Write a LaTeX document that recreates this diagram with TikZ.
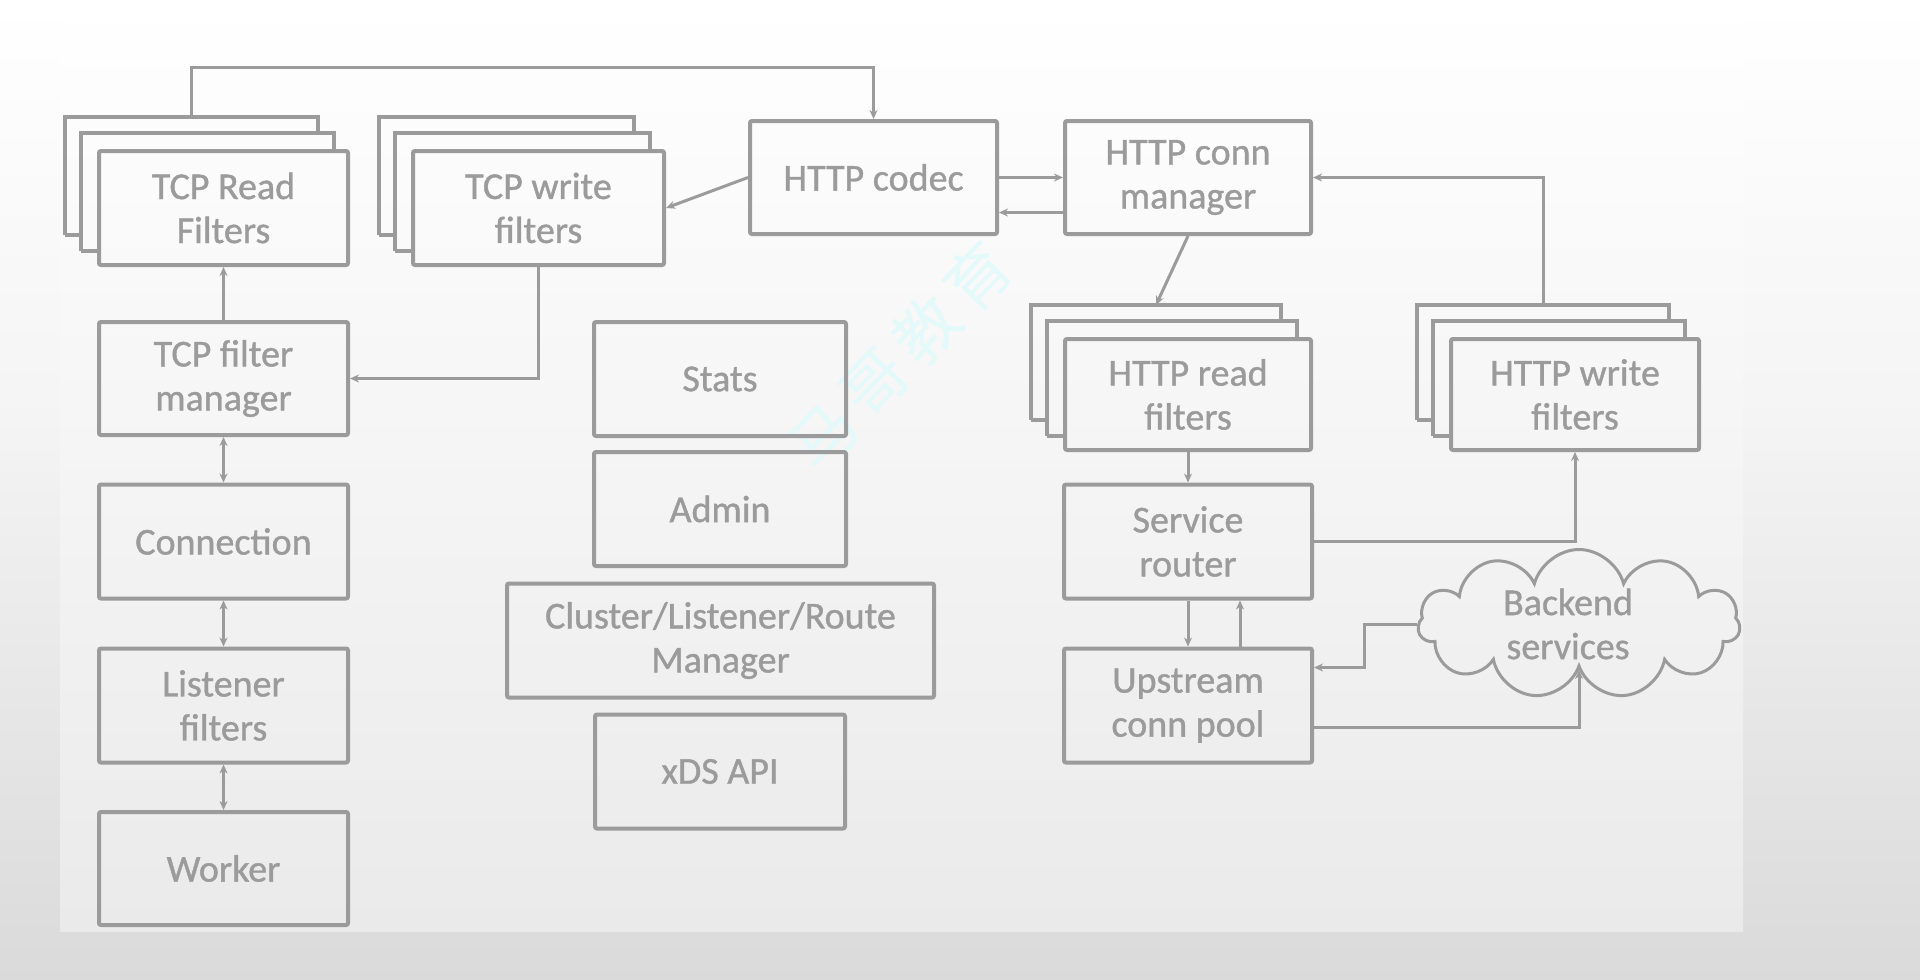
\documentclass[tikz,border=0pt]{standalone}
\usepackage{fontspec}
\setmainfont{Carlito}
\newfontfamily\boxfont{Carlito}[FakeBold=1]
\newfontfamily\cjkwm{Noto Sans CJK SC}
\usetikzlibrary{arrows.meta,calc,shapes.symbols}
\definecolor{lc}{HTML}{9B9B9B}
\definecolor{wmc}{HTML}{E4F9F9}
\definecolor{bgo}{HTML}{DADADA}
\definecolor{bgi}{HTML}{EAEAEA}
\pgfdeclareverticalshading{outerbg}{100bp}{color(0bp)=(bgo); color(25bp)=(bgo); color(54.6bp)=(black!4); color(75bp)=(white); color(100bp)=(white)}
\pgfdeclareverticalshading{innerbg}{100bp}{color(0bp)=(bgi); color(25bp)=(bgi); color(53.5bp)=(black!3.5); color(75bp)=(white); color(100bp)=(white)}
\tikzset{
  box/.style={draw=lc, line width=4pt, rounded corners=2pt, minimum width=249pt,
    minimum height=114pt, align=center, text=lc, inner sep=0pt,
    font=\fontsize{38}{44}\boxfont},
  edge/.style={draw=lc, line width=4pt},
  conn/.style={draw=lc, line width=3pt, -{Stealth[length=9pt,width=8pt]}},
  dconn/.style={draw=lc, line width=3pt, {Stealth[length=9pt,width=8pt]}-{Stealth[length=9pt,width=8pt]}},
}
\newcommand\stackback[1]{%
  \draw[edge] ($(#1.south west)+(-16,-16)$) -- ($(#1.north west)+(-16,-16)$) -- ($(#1.north east)+(-16,-16)$) -- ($(#1.north east)+(-16,0)$);
  \draw[edge] ($(#1.south west)+(-16,-16)$) -- ($(#1.south west)+(0,-16)$);
  \draw[edge] ($(#1.south west)+(-32,-32)$) -- ($(#1.north west)+(-32,-32)$) -- ($(#1.north east)+(-32,-32)$) -- ($(#1.north east)+(-32,-16)$);
  \draw[edge] ($(#1.south west)+(-32,-32)$) -- ($(#1.south west)+(-16,-32)$);
}
\begin{document}
\begin{tikzpicture}[x=1pt,y=-1pt]
\useasboundingbox (0,0) rectangle (1920,980);
\shade[shading=outerbg] (0,0) rectangle (1920,980);
\shade[shading=innerbg] (60,0) rectangle (1743,931);
% watermark
\node[rotate=46, text=wmc, font=\fontsize{64}{64}\selectfont\cjkwm] (wm) at (900,356) {马\hspace{10pt}哥\hspace{10pt}教\hspace{10pt}育};
% nodes
\node[box] (tcpread) at (223.5,208) {TCP Read\\Filters};
\node[box, minimum width=251pt] (tcpwrite) at (538.5,208) {TCP write\\filters};
\node[box, minimum width=247pt, minimum height=113pt] (codec) at (873.5,177.5) {HTTP codec};
\node[box, minimum width=246pt, minimum height=113pt] (connmgr) at (1188,177.5) {HTTP conn\\manager};
\node[box, minimum width=246pt, minimum height=111pt] (httpread) at (1188,394.5) {HTTP read\\filters};
\node[box, minimum width=248pt, minimum height=111pt] (httpwrite) at (1575,394.5) {HTTP write\\filters};
\node[box, minimum width=248pt] (router) at (1188,541.5) {Service\\router};
\node[box, minimum width=248pt] (pool) at (1188,705.5) {Upstream\\conn pool};
\node[box, minimum height=113pt] (filtermgr) at (223.5,378.5) {TCP filter\\manager};
\node[box] (connection) at (223.5,541.5) {Connection};
\node[box] (listener) at (223.5,705.5) {Listener\\filters};
\node[box, minimum height=113pt] (worker) at (223.5,868.5) {Worker};
\node[box, minimum width=252pt] (stats) at (720,379) {Stats};
\node[box, minimum width=252pt] (admin) at (720,509) {Admin};
\node[box, minimum width=427pt] (clm) at (720.5,640.5) {Cluster/Listener/Route\\Manager};
\node[box, minimum width=250pt] (xds) at (720,771.5) {xDS API};
\node[cloud, cloud puffs=11, aspect=2.1, draw=lc, line width=3pt, minimum width=322pt,
  minimum height=149pt, text=lc, align=center, inner sep=0pt,
  font=\fontsize{38}{44}\boxfont] (cloud) at (1579,624) {Backend\hspace*{22pt}\\services\hspace*{22pt}};
% stacked layers
\stackback{tcpread}
\stackback{tcpwrite}
\stackback{httpread}
\stackback{httpwrite}
% connectors
\draw[conn] ($(tcpread.north)+(-32,-32)$) -- ++(0,-50) -| (codec.north);
\draw[conn] (codec.west) -- (tcpwrite.east);
\draw[conn] (tcpwrite.south) |- (filtermgr.east);
\draw[conn] (filtermgr.north) -- (tcpread.south);
\draw[dconn] (filtermgr.south) -- (connection.north);
\draw[dconn] (connection.south) -- (listener.north);
\draw[dconn] (listener.south) -- (worker.north);
\draw[conn] (codec.east) -- (connmgr.west);
\draw[conn] ($(connmgr.west)+(0,35)$) -- ($(codec.east)+(0,35)$);
\draw[conn] (connmgr.south) -- ($(httpread.north)+(-32,-32)$);
\draw[conn] ($(httpwrite.north)+(-32,-32)$) |- (connmgr.east);
\draw[conn] (httpread.south) -- (router.north);
\draw[conn] (router.east) -| (httpwrite.south);
\draw[conn] (router.south) -- (pool.north);
\draw[conn] ($(pool.north)+(52,0)$) -- ($(router.south)+(52,0)$);
\draw[conn] (cloud.west) -- ++(-53,0) |- ($(pool.east)+(0,-38)$);
\draw[conn] ($(pool.east)+(0,22)$) -| (cloud.south);
\end{tikzpicture}
\end{document}
